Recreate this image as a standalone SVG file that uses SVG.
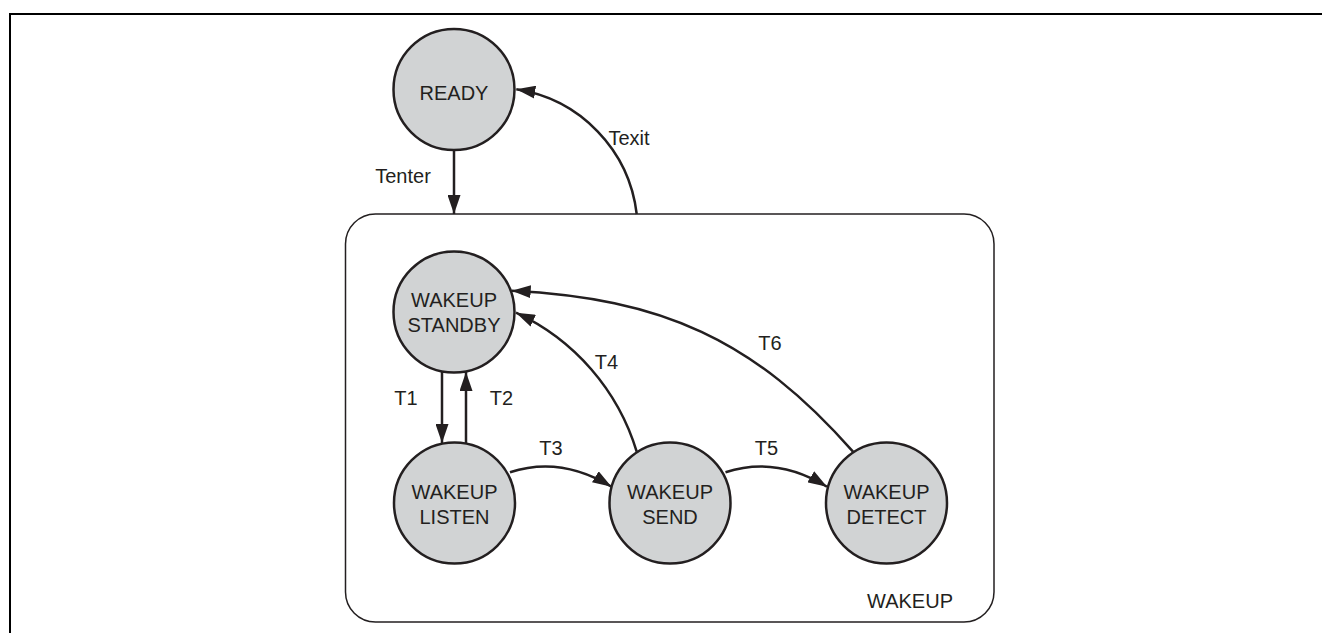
<svg xmlns="http://www.w3.org/2000/svg" width="1322" height="633" viewBox="0 0 1322 633">
<style>
.state{fill:#d1d3d4;stroke:#231f20;stroke-width:2.5}
.lbl{font-family:"Liberation Sans",Arial,sans-serif;font-size:20px;fill:#231f20;text-anchor:middle}
.conn{fill:none;stroke:#231f20;stroke-width:2.5}
.frame{fill:none;stroke:#000;stroke-width:2}
</style>
<defs>
<marker id="ah" markerUnits="userSpaceOnUse" markerWidth="19" markerHeight="13" refX="19" refY="6.5" orient="auto">
<path d="M0,0 L19,6.5 L0,13 z" fill="#231f20"/>
</marker>
</defs>
<rect width="1322" height="633" fill="#fff"/>
<path class="frame" d="M10,633 V14 H1322"/>
<g id="wakeup-box">
<rect x="345.5" y="214" width="648.5" height="408" rx="30" ry="30" fill="none" stroke="#231f20" stroke-width="1.5"/>
<text class="lbl" x="910" y="608">WAKEUP</text>
</g>
<g id="connectors">
<path class="conn" marker-end="url(#ah)" d="M454,151 V214"/>
<path class="conn" marker-end="url(#ah)" d="M636.7,214 A143,143 0 0,0 516.3,89.3"/>
<path class="conn" marker-end="url(#ah)" d="M442,372 V443"/>
<path class="conn" marker-end="url(#ah)" d="M466,443 V372"/>
<path class="conn" marker-end="url(#ah)" d="M510,472.3 Q560.5,455.5 611.5,486.7"/>
<path class="conn" marker-end="url(#ah)" d="M725.5,472.3 Q776,455.5 827,486.7"/>
<path class="conn" marker-end="url(#ah)" d="M636.7,451.7 A225,225 0 0,0 516,312.7"/>
<path class="conn" marker-end="url(#ah)" d="M853,451.7 C754,339.2 661.7,298.2 511.7,290.7"/>
<text class="lbl" x="403" y="183">Tenter</text>
<text class="lbl" x="629" y="145">Texit</text>
<text class="lbl" x="406" y="405">T1</text>
<text class="lbl" x="501.5" y="405">T2</text>
<text class="lbl" x="551" y="455">T3</text>
<text class="lbl" x="606.5" y="369">T4</text>
<text class="lbl" x="766.5" y="455">T5</text>
<text class="lbl" x="770" y="350">T6</text>
</g>
<g id="ready">
<circle class="state" cx="454" cy="89.5" r="60.5"/>
<text class="lbl" x="454" y="100">READY</text>
</g>
<g id="standby">
<circle class="state" cx="454" cy="312" r="60.5"/>
<text class="lbl" x="454" y="306.7">WAKEUP</text>
<text class="lbl" x="454" y="331.7">STANDBY</text>
</g>
<g id="listen">
<circle class="state" cx="454.5" cy="503" r="60.5"/>
<text class="lbl" x="454.5" y="499">WAKEUP</text>
<text class="lbl" x="454.5" y="524">LISTEN</text>
</g>
<g id="send">
<circle class="state" cx="670" cy="503" r="60.5"/>
<text class="lbl" x="670" y="499">WAKEUP</text>
<text class="lbl" x="670" y="524">SEND</text>
</g>
<g id="detect">
<circle class="state" cx="886.5" cy="503" r="60.5"/>
<text class="lbl" x="886.5" y="499">WAKEUP</text>
<text class="lbl" x="886.5" y="524">DETECT</text>
</g>
</svg>
